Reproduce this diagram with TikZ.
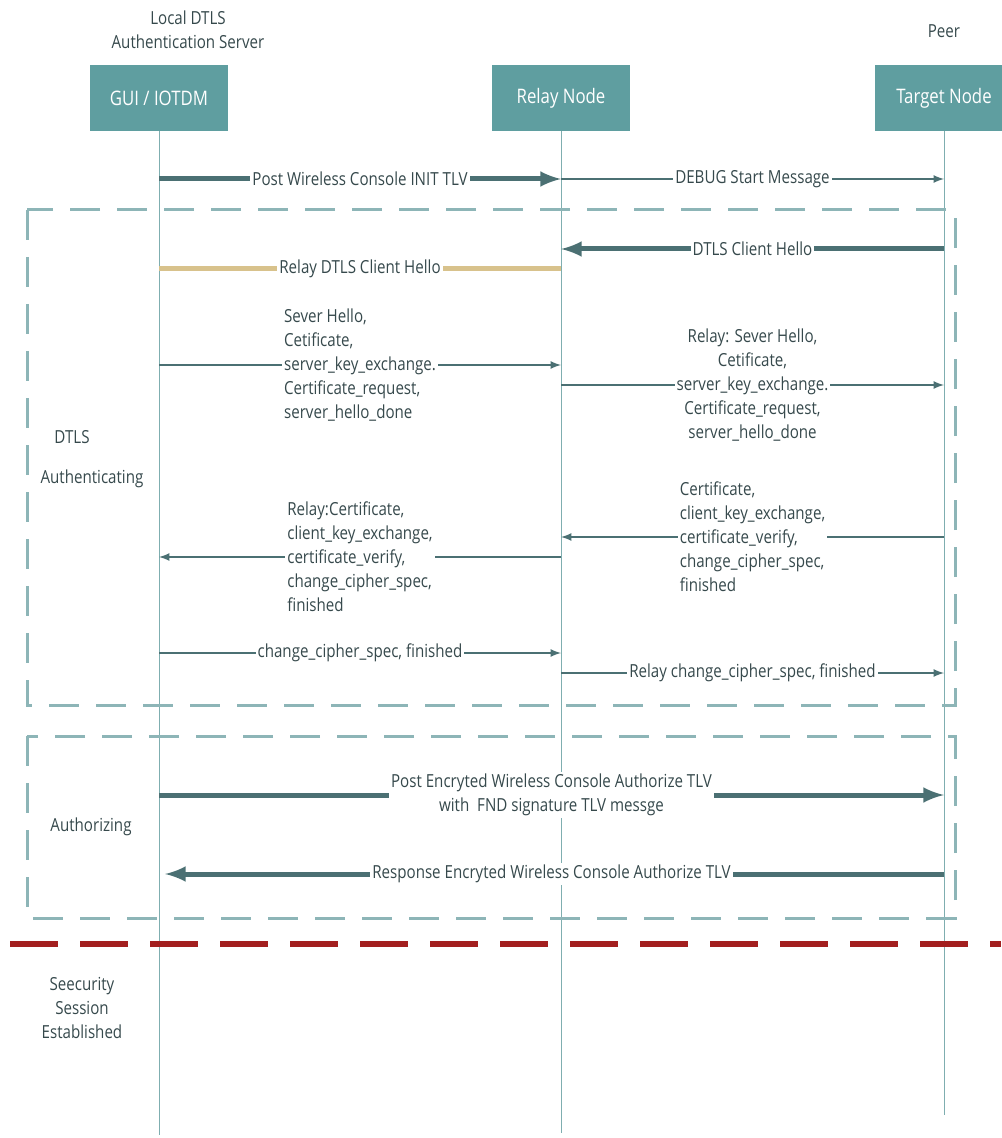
\documentclass[tikz,border=0pt]{standalone}
\usepackage{fontspec}
\setmainfont{Open Sans}[FakeStretch=0.84]
\definecolor{boxteal}{HTML}{5F9EA0}
\definecolor{lifeteal}{HTML}{7FAEB0}
\definecolor{arrowteal}{HTML}{4B7073}
\definecolor{txtgrey}{HTML}{36494C}
\definecolor{dashteal}{HTML}{8DB5B7}
\definecolor{relaygold}{HTML}{D8C28C}
\definecolor{sessred}{HTML}{A31F1F}
\tikzset{
  actor/.style={fill=boxteal, text=white, minimum width=69pt, minimum height=33pt,
    font=\fontsize{10}{12}\selectfont},
  life/.style={lifeteal, line width=0.5pt},
  msg/.style={arrowteal, line width=0.8pt, -latex},
  bigmsg/.style={arrowteal, line width=2.5pt, -latex},
  lbl/.style={fill=white, inner sep=1pt, text=txtgrey},
  group/.style={dashteal, line width=1.5pt, dash pattern=on 15pt off 8.5pt},
}
\begin{document}
\begin{tikzpicture}[x=0.5pt, y=-0.5pt, text=txtgrey,
    font=\fontsize{9}{12}\selectfont]
\useasboundingbox (0,0) rectangle (1001,1138);
% actors
\node[actor] (gui) at (159,98) {GUI / IOTDM};
\node[actor] (relay) at (561,98) {Relay Node};
\node[actor] (target) at (944,98) {Target Node};
\node[align=center] (srvtitle) at (188,30) {Local DTLS\\Authentication Server};
\node (peer) at (944,31) {Peer};
% lifelines
\coordinate (guiend) at (0,1135);
\coordinate (relayend) at (0,1133);
\coordinate (targetend) at (0,1115);
\draw[life] (gui.south) -- (gui |- guiend);
\draw[life] (relay.south) -- (relay |- relayend);
\draw[life] (target.south) -- (target |- targetend);
% groups
\draw[group] (27,210) rectangle (955,705);
\draw[group] (27,736) rectangle (955,918);
\draw[sessred, line width=3pt, dash pattern=on 24pt off 11pt] (10,944) -- (1001,944);
\node (dtls) at (72,437) {DTLS};
\node (authn) at (92,479) {Authenticating};
\node (authz) at (91,827) {Authorizing};
\node[align=center] (sess) at (82,1008) {Seecurity\\Session\\Established};
% message rows
\coordinate (m1) at (0,179);
\coordinate (m2) at (0,249);
\coordinate (m3) at (0,269);
\coordinate (m4) at (0,365);
\coordinate (m5) at (0,385);
\coordinate (m6) at (0,557);
\coordinate (m7) at (0,537);
\coordinate (m8) at (0,653);
\coordinate (m9) at (0,673);
\coordinate (m10) at (0,795);
\coordinate (m11) at (0,874);
% messages
\draw[bigmsg] (gui |- m1) -- node[lbl] {Post Wireless Console INIT TLV} (relay |- m1);
\draw[msg] (relay |- m1) -- node[lbl] {DEBUG Start Message} (target |- m1);
\draw[bigmsg] (target |- m2) -- node[lbl] {DTLS Client Hello} (relay |- m2);
\draw[relaygold, line width=2.5pt] (gui |- m3) -- node[lbl] {Relay DTLS Client Hello} (relay |- m3);
\draw[msg] (gui |- m4) -- node[lbl, align=left] {Sever Hello,\\Cetificate,\\server\_key\_exchange.\\Certificate\_request,\\server\_hello\_done} (relay |- m4);
\draw[msg] (relay |- m5) -- node[lbl, align=center] {Relay: Sever Hello,\\Cetificate,\\server\_key\_exchange.\\Certificate\_request,\\server\_hello\_done} (target |- m5);
\draw[msg] (target |- m7) -- node[lbl, align=left] {Certificate,\\client\_key\_exchange,\\certificate\_verify,\\change\_cipher\_spec,\\finished} (relay |- m7);
\draw[msg] (relay |- m6) -- node[lbl, align=left] {Relay:Certificate,\\client\_key\_exchange,\\certificate\_verify,\\change\_cipher\_spec,\\finished} (gui |- m6);
\draw[msg] (gui |- m8) -- node[lbl] {change\_cipher\_spec, finished} (relay |- m8);
\draw[msg] (relay |- m9) -- node[lbl] {Relay change\_cipher\_spec, finished} (target |- m9);
\draw[bigmsg] (gui |- m10) -- node[lbl, align=center] {Post Encryted Wireless Console Authorize TLV\\with~~FND signature TLV messge} (target |- m10);
\draw[bigmsg, shorten >=3pt] (target |- m11) -- node[lbl] {Response Encryted Wireless Console Authorize TLV} (gui |- m11);
\end{tikzpicture}
\end{document}
